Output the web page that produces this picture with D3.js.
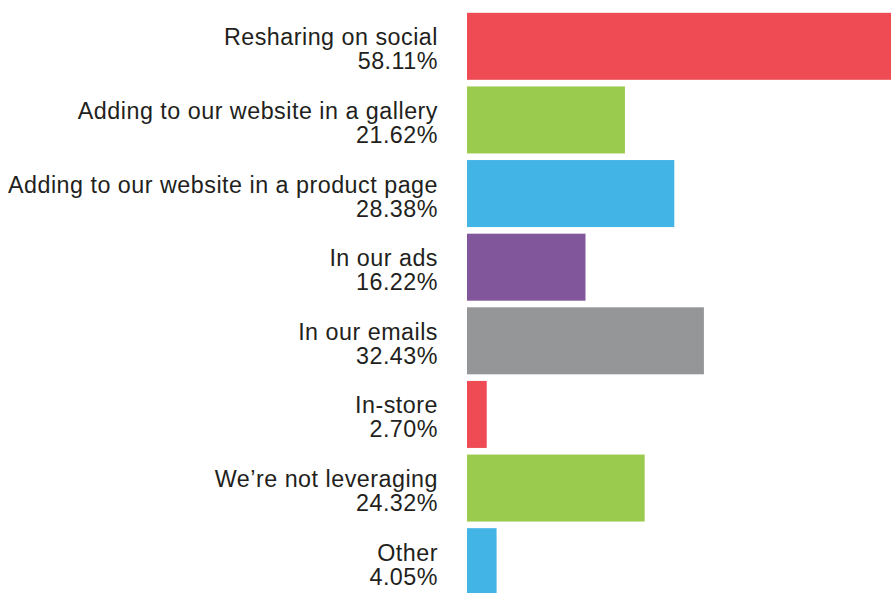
<!DOCTYPE html>
<html>
<head>
<meta charset="utf-8">
<script src="https://cdn.jsdelivr.net/npm/d3@7"></script>
<style>
  html, body { margin: 0; padding: 0; background: #ffffff; }
  svg { display: block; }
</style>
</head>
<body>
<div id="chart"></div>
<script>
// Survey answers: how brands use the content they collect
const categories = [
  "Resharing on social",
  "Adding to our website in a gallery",
  "Adding to our website in a product page",
  "In our ads",
  "In our emails",
  "In-store",
  "We\u2019re not leveraging",
  "Other"
];
const values = [58.11, 21.62, 28.38, 16.22, 32.43, 2.70, 24.32, 4.05];
const valueLabels = ["58.11%", "21.62%", "28.38%", "16.22%", "32.43%", "2.70%", "24.32%", "4.05%"];
const colors = ["#ef4b55", "#9bcb4e", "#42b4e6", "#82569a", "#959698", "#ef4b55", "#9bcb4e", "#42b4e6"];

const width = 891, height = 593;
const barLeft = 467;
const labelRight = 438;

const svg = d3.select("#chart").append("svg")
  .attr("width", width)
  .attr("height", height);

const x = d3.scaleLinear()
  .domain([0, 58.11])
  .range([barLeft, 891.5]);

const y = d3.scaleBand()
  .domain(categories)
  .range([9.5, 598.5])
  .paddingInner(0.09)
  .paddingOuter(0.045);

const rows = svg.selectAll("g.row")
  .data(categories.map((c, i) => ({ c, v: values[i], lab: valueLabels[i], col: colors[i] })))
  .join("g")
  .attr("class", "row");

rows.append("rect")
  .attr("x", x(0))
  .attr("y", d => y(d.c))
  .attr("width", d => x(d.v) - x(0))
  .attr("height", y.bandwidth())
  .attr("fill", d => d.col);

const text = rows.append("text")
  .attr("text-anchor", "end")
  .attr("font-family", "'Liberation Sans', Arial, Helvetica, sans-serif")
  .attr("font-size", 23.3)
  .attr("letter-spacing", 0.5)
  .attr("fill", "#231f20");

text.append("tspan")
  .attr("x", labelRight)
  .attr("y", d => y(d.c) + y.bandwidth() / 2 - 1)
  .text(d => d.c);

text.append("tspan")
  .attr("x", labelRight)
  .attr("y", d => y(d.c) + y.bandwidth() / 2 + 23)
  .text(d => d.lab);
</script>
</body>
</html>
